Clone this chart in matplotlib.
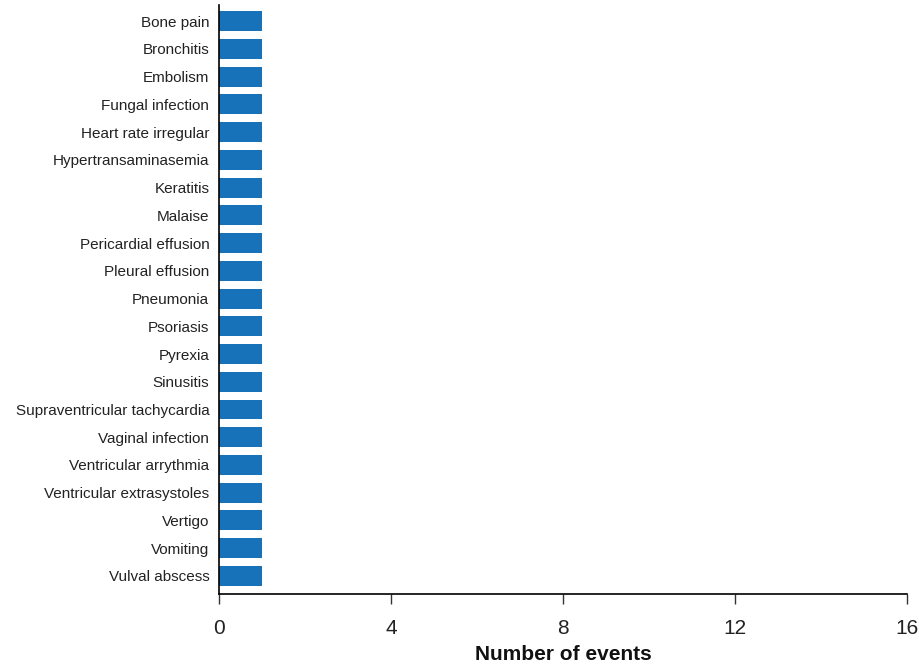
import matplotlib
matplotlib.use("Agg")
import matplotlib.pyplot as plt

categories = ["Bone pain", "Bronchitis", "Embolism", "Fungal infection", "Heart rate irregular",
              "Hypertransaminasemia", "Keratitis", "Malaise", "Pericardial effusion", "Pleural effusion",
              "Pneumonia", "Psoriasis", "Pyrexia", "Sinusitis", "Supraventricular tachycardia",
              "Vaginal infection", "Ventricular arrythmia", "Ventricular extrasystoles", "Vertigo",
              "Vomiting", "Vulval abscess"]
values = [1] * 21
x_ticks = [0, 4, 8, 12, 16]

plt.rcParams['font.family'] = ['Liberation Sans', 'DejaVu Sans']
fig = plt.figure(figsize=(9.2, 6.7), dpi=100)
ax = fig.add_axes([219/920, 1-594/670, (907-219)/920, (594-5)/670])

pos = list(range(len(categories)))
ax.barh(pos, values, height=0.72, color='#1772b9')
ax.set_yticks(pos)
ax.set_yticklabels(categories, fontsize=11, color='#222222')
ax.set_ylim(len(categories) - 1 + 0.65, -0.58)
ax.set_xlim(0, 16)
ax.set_xticks(x_ticks)
ax.set_xticklabels([str(t) for t in x_ticks], fontsize=15, color='#222222')
ax.tick_params(axis='y', length=0, pad=7)
ax.tick_params(axis='x', length=7, width=1, direction='out', pad=11, color='#333333')
ax.spines['top'].set_visible(False)
ax.spines['right'].set_visible(False)
for s in ['left', 'bottom']:
    ax.spines[s].set_linewidth(1.2)
    ax.spines[s].set_color('black')
ax.set_xlabel("Number of events", fontsize=15, fontweight='bold', labelpad=5, color='#111111')
fig.savefig("out.png", dpi=100)
